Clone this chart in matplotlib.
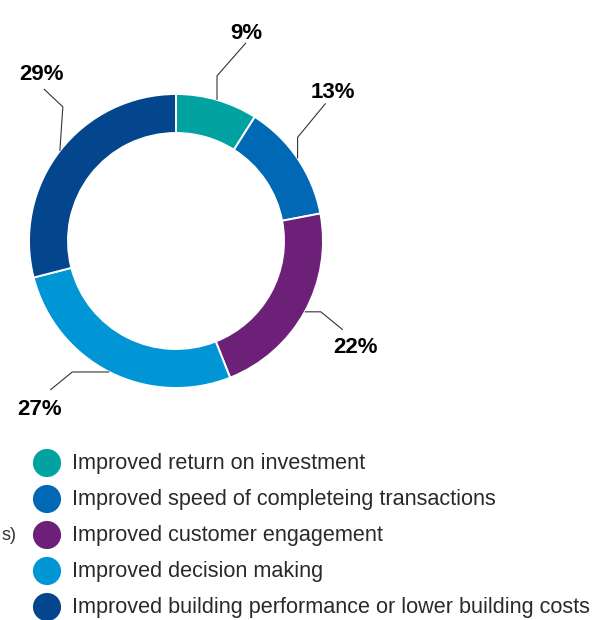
import numpy as np
import matplotlib.pyplot as plt

plt.rcParams["font.family"] = ["Liberation Sans", "DejaVu Sans"]

# data
values = [9, 13, 22, 27, 29]
pct_labels = ["9%", "13%", "22%", "27%", "29%"]
categories = [
    "Improved return on investment",
    "Improved speed of completeing transactions",
    "Improved customer engagement",
    "Improved decision making",
    "Improved building performance or lower building costs",
]
colors = ["#00A3A1", "#0068B4", "#6D2077", "#0096D6", "#03468E"]

W, H = 601, 620
fig = plt.figure(figsize=(W / 100, H / 100), dpi=100)
ax = fig.add_axes([0, 0, 1, 1])

# donut (pixel coords, y measured from the bottom)
cx, cy, R, ring = 176, H - 241, 147, 39
wedges, _ = ax.pie(
    values, colors=colors, startangle=90, counterclock=False,
    center=(cx, cy), radius=R,
    wedgeprops=dict(width=ring, edgecolor="white", linewidth=1.4),
)

# leader lines: first leg, second leg, label offset from line end (dx, dy), in px
leaders = [
    ((0, 24), (29, 33), (0, 4)),
    ((0, 21), (28, 34), (7, 5)),
    ((16, 0), (22, -18), (13, -23)),
    ((-37, 0), (-22, -18), (-11, -25)),
    ((3, 44), (-19, 18), (-2, 9)),
]

for w, txt, (l1, l2, off) in zip(wedges, pct_labels, leaders):
    ang = np.deg2rad((w.theta1 + w.theta2) / 2)
    x0, y0 = cx + R * np.cos(ang), cy + R * np.sin(ang)
    x1, y1 = x0 + l1[0], y0 + l1[1]
    x2, y2 = x1 + l2[0], y1 + l2[1]
    ax.plot([x0, x1, x2], [y0, y1, y2], color="#333333", lw=0.8,
            solid_capstyle="butt")
    ax.text(x2 + off[0], y2 + off[1], txt, ha="center", va="baseline",
            fontsize=16, fontweight="bold", color="black")

# legend
ys = H - (463 + 36 * np.arange(len(categories)))
ax.scatter(np.full(len(ys), 47), ys, s=410, c=colors, linewidths=0)
for y, cat in zip(ys, categories):
    ax.text(72, y, cat, ha="left", va="center", fontsize=15.6, color="#2a2a2a")

# leftover text at the left edge
ax.text(1, H - 536, "s)", ha="left", va="center", fontsize=13, color="#333333")

ax.set_xlim(0, W)
ax.set_ylim(0, H)
ax.set_aspect("equal")
ax.axis("off")

plt.savefig("out.png", dpi=100)
